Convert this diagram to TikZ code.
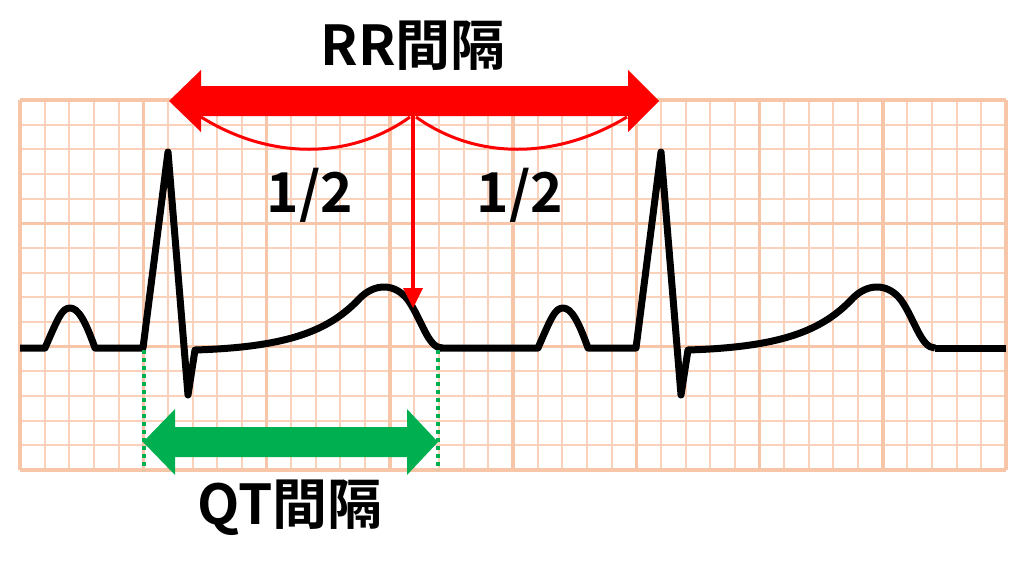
\documentclass[tikz,border=0pt]{standalone}
\usepackage{fontspec}
\setmainfont{Noto Sans CJK JP}[BoldFont={* Bold}]
\begin{document}
\begin{tikzpicture}[x=1pt,y=-1pt,
  minor/.style={line width=2pt, color={rgb,255:red,250;green,210;blue,188}},
  major/.style={line width=3.5pt, color={rgb,255:red,247;green,198;blue,168}},
  ecg/.style={line width=7pt, line join=round, black},
  lbl/.style={font=\bfseries\fontsize{55}{55}\selectfont, inner sep=0pt}]
\useasboundingbox (0,0) rectangle (1024,573);
\definecolor{rr}{RGB}{255,0,0}
\definecolor{qt}{RGB}{0,176,80}
% grid
\foreach \i in {0,...,40} \draw[minor] ({20+\i*24.65},100) -- ({20+\i*24.65},470);
\foreach \j in {0,...,15} \draw[minor] (20,{100+\j*24.67}) -- (1006,{100+\j*24.67});
\foreach \i in {0,...,8} \draw[major] ({20+\i*123.25},100) -- ({20+\i*123.25},470);
\foreach \j in {0,...,3} \draw[major] (20,{100+\j*123.33}) -- (1006,{100+\j*123.33});
% ecg
\foreach \s/\st in {0/20,493/-53}{
\begin{scope}[xshift=\s]
\draw[ecg] (\st,348) -- (45,348) .. controls (58,318) and (62,308) .. (70,308)
  .. controls (78,308) and (85,320) .. (95,348) -- (143,348) -- (168,152) -- (188,395) -- (195,350)
  .. controls (290,347) and (330,330) .. (360,298) .. controls (375,283) and (395,283) .. (408,300)
  .. controls (422,320) and (428,348) .. (442,348);
\end{scope}}
\draw[ecg] (935,348) -- (1006,348);
% RR arrow
\fill[rr] (169,101) -- (201,70) -- (201,86) -- (628,86) -- (628,70) -- (659,101) -- (628,132) -- (628,116) -- (201,116) -- (201,132) -- cycle;
\draw[rr,line width=3pt] (201,117) .. controls (270,160) and (350,160) .. (410,117);
\draw[rr,line width=3pt] (416,117) .. controls (476,160) and (556,160) .. (627,117);
\coordinate (top) at (413,114);
\coordinate (tw) at (413,308);
\draw[rr,line width=3.5pt] (top) -- (413,290);
\fill[rr] (tw) -- (403,288) -- (423,288) -- cycle;
% QT arrow
\fill[qt] (143,442) -- (175,409) -- (175,427) -- (407,427) -- (407,409) -- (438,442) -- (407,475) -- (407,457) -- (175,457) -- (175,475) -- cycle;
\draw[qt,line width=3.5pt,dash pattern=on 4pt off 4pt] (144,350) -- (144,470);
\draw[qt,line width=3.5pt,dash pattern=on 4pt off 4pt] (438,350) -- (438,470);
% labels
\node[lbl] (rrl) at (413,46) {RR間隔};
\node[lbl] (h1) at (310,195) {1/2};
\node[lbl] (h2) at (520,195) {1/2};
\node[lbl] (qtl) at (290,508) {QT間隔};
\end{tikzpicture}
\end{document}
